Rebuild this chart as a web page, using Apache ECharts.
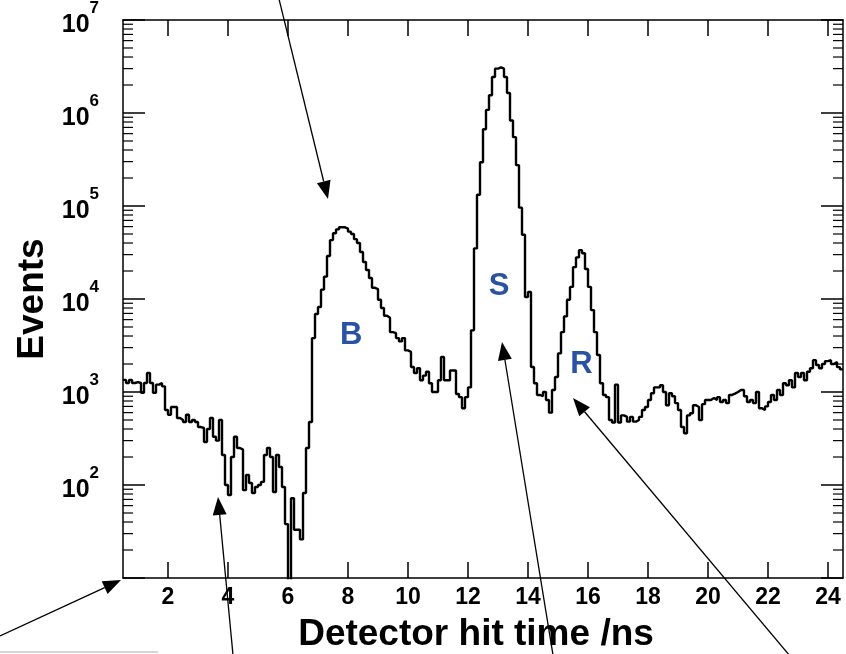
<!DOCTYPE html>
<html>
<head>
<meta charset="utf-8">
<script src="https://cdn.jsdelivr.net/npm/echarts@6/dist/echarts.min.js"></script>
<style>
  html, body { margin: 0; padding: 0; background: #fff; }
  #chart { width: 846px; height: 654px; }
</style>
</head>
<body>
<div id="chart"></div>
<script>
// histogram: 0.1 ns bins starting at 0.5 ns
const binStart = 0.5;
const binWidth = 0.1;
const counts = [
  1350, 1250, 1350, 1250, 1280, 1250, 980, 1250, 1600, 1250,
  980, 1200, 1250, 1150, 640, 570, 690, 690, 525, 500,
  475, 570, 475, 500, 475, 420, 410, 290, 400, 525,
  330, 300, 500, 210, 100, 78, 200, 330, 250, 240,
  88, 128, 105, 82, 95, 100, 108, 210, 250, 200,
  84, 210, 156, 95, 38, 5, 72, 33, 33, 26,
  82, 250, 475, 3800, 6900, 8200, 12600, 17400, 29000, 43000,
  51000, 56000, 59000, 59000, 57000, 53000, 50000, 44000, 40000, 32000,
  25000, 20500, 16800, 13200, 12800, 9800, 8000, 6600, 6300, 4400,
  4300, 3800, 3500, 3800, 2800, 2700, 1860, 1600, 1800, 1340,
  1500, 1650, 1240, 1000, 1000, 1340, 2380, 1340, 1340, 1700,
  1700, 950, 880, 670, 880, 1120, 4600, 35000, 132000, 295000,
  670000, 1080000, 1550000, 2440000, 3000000, 3100000, 3000000, 2440000, 1640000, 830000,
  550000, 275000, 96000, 49000, 10500, 11900, 1860, 1240, 930, 900,
  1000, 820, 600, 1050, 1450, 2600, 4400, 6500, 9800, 13500,
  22000, 28000, 33500, 31000, 21000, 13500, 7600, 4400, 2500, 1240,
  930, 880, 500, 470, 1200, 470, 560, 540, 480, 540,
  480, 500, 540, 640, 690, 820, 970, 1120, 1120, 1180,
  1000, 720, 970, 900, 760, 640, 420, 360, 560, 590,
  720, 690, 500, 740, 820, 820, 860, 820, 880, 780,
  820, 760, 930, 960, 1000, 1050, 1050, 900, 780, 820,
  760, 1000, 670, 640, 700, 780, 930, 820, 1050, 930,
  1240, 1180, 1340, 1120, 1600, 1450, 1600, 1340, 1650, 1800,
  2200, 1950, 1800, 2000, 2150, 2200, 2000, 2100, 1850, 1750
];

const xMin = 0.5;
const xMax = 24.5;
const xTicks = [2, 4, 6, 8, 10, 12, 14, 16, 18, 20, 22, 24];
const yMinor = [
  20, 30, 40, 50, 60, 70, 80, 90,
  200, 300, 400, 500, 600, 700, 800, 900,
  2000, 3000, 4000, 5000, 6000, 7000, 8000, 9000,
  20000, 30000, 40000, 50000, 60000, 70000, 80000, 90000,
  200000, 300000, 400000, 500000, 600000, 700000, 800000, 900000,
  2000000, 3000000, 4000000, 5000000, 6000000, 7000000, 8000000, 9000000
];

// peak letters: [time, events, text]
const peakLabels = [
  [8.11, 4100, 'B'],
  [13.04, 13500, 'S'],
  [15.78, 2000, 'R']
];

// arrows in pixels: [tail, tip]
const arrows = [
  [[279, -1], [328, 199]],
  [[0, 636], [121, 580]],
  [[233, 655], [218, 497]],
  [[553, 655], [502, 342]],
  [[790, 656], [573, 398]]
];

const FONT = '"Liberation Sans", Arial, Helvetica, sans-serif';
const BLUE = '#2952a3';

const histPoints = counts.map((c, i) => [+(binStart + i * binWidth).toFixed(2), c]);
histPoints.push([+(binStart + counts.length * binWidth).toFixed(2), counts[counts.length - 1]]);

function arrowGraphic(tail, tip) {
  const dx = tip[0] - tail[0], dy = tip[1] - tail[1];
  const len = Math.sqrt(dx * dx + dy * dy);
  const ux = dx / len, uy = dy / len;
  const hl = 18, hw = 7;
  const bx = tip[0] - ux * hl, by = tip[1] - uy * hl;
  return [
    { type: 'line', shape: { x1: tail[0], y1: tail[1], x2: bx, y2: by },
      style: { stroke: '#000', lineWidth: 1.3 }, silent: true },
    { type: 'polygon', shape: { points: [tip, [bx - uy * hw, by + ux * hw], [bx + uy * hw, by - ux * hw]] },
      style: { fill: '#000' }, silent: true }
  ];
}

const chart = echarts.init(document.getElementById('chart'), null, { renderer: 'canvas' });

const axisLine = { show: true, onZero: false, lineStyle: { color: '#000', width: 1.5 } };

chart.setOption({
  animation: false,
  backgroundColor: '#fff',
  grid: { left: 123, right: 3, top: 20, bottom: 76, containLabel: false, outerBoundsMode: 'none' },
  xAxis: [
    {
      type: 'value', min: xMin, max: xMax, position: 'bottom',
      axisLine: axisLine,
      axisTick: { show: true, inside: true, length: 16, customValues: xTicks, lineStyle: { color: '#000', width: 1.5 } },
      axisLabel: { customValues: xTicks, color: '#000', fontSize: 23, fontWeight: 'bold', fontFamily: FONT, margin: 8 },
      splitLine: { show: false },
      name: 'Detector hit time /ns', nameLocation: 'middle', nameGap: 38,
      nameTextStyle: { color: '#000', fontSize: 37, fontWeight: 'bold', fontFamily: FONT, padding: [0, 14, 0, 0] }
    },
    {
      type: 'value', min: xMin, max: xMax, position: 'top',
      axisLine: axisLine,
      axisTick: { show: true, inside: true, length: 16, customValues: xTicks, lineStyle: { color: '#000', width: 1.5 } },
      axisLabel: { show: false },
      splitLine: { show: false }
    }
  ],
  yAxis: [
    {
      type: 'log', logBase: 10, min: 10, max: 1e7, position: 'left',
      axisLine: axisLine,
      axisTick: { show: true, inside: true, length: 22, lineStyle: { color: '#000', width: 1.5 } },
      axisLabel: {
        color: '#000', margin: 24, padding: [10, 0, 0, 0],
        fontSize: 25, fontWeight: 'bold', fontFamily: FONT,
        formatter: v => v <= 10 ? '' : '{b|10}{s|' + Math.round(Math.log10(v)) + '}',
        rich: {
          b: { fontSize: 25, fontWeight: 'bold', fontFamily: FONT, color: '#000', lineHeight: 50 },
          s: { fontSize: 17, fontWeight: 'bold', fontFamily: FONT, color: '#000', verticalAlign: 'top', lineHeight: 17 }
        }
      },
      splitLine: { show: false },
      name: 'Events', nameLocation: 'middle', nameRotate: 90, nameGap: 68,
      nameTextStyle: { color: '#000', fontSize: 37, fontWeight: 'bold', fontFamily: FONT }
    },
    {
      type: 'log', logBase: 10, min: 10, max: 1e7, position: 'right',
      axisLine: axisLine,
      axisTick: { show: true, inside: true, length: 22, lineStyle: { color: '#000', width: 1.5 } },
      axisLabel: { show: false },
      splitLine: { show: false }
    }
  ],
  series: [
    {
      name: 'events', type: 'line', step: 'end', data: histPoints,
      xAxisIndex: 0, yAxisIndex: 0, symbol: 'none', clip: true,
      lineStyle: { color: '#000', width: 2.4 }, z: 5
    },
    {
      // minor log ticks on left and right frame
      type: 'custom', xAxisIndex: 0, yAxisIndex: 0, silent: true, clip: false,
      data: yMinor.map(v => [xMin, v]),
      encode: { x: 0, y: 1 },
      renderItem: (params, api) => {
        const v = api.value(1);
        const l = api.coord([xMin, v]);
        const r = api.coord([xMax, v]);
        return {
          type: 'group',
          children: [
            { type: 'line', shape: { x1: l[0], y1: l[1], x2: l[0] + 10, y2: l[1] }, style: { stroke: '#000', lineWidth: 1.2 } },
            { type: 'line', shape: { x1: r[0] - 10, y1: r[1], x2: r[0], y2: r[1] }, style: { stroke: '#000', lineWidth: 1.2 } }
          ]
        };
      }
    },
    {
      type: 'scatter', xAxisIndex: 0, yAxisIndex: 0, silent: true,
      symbolSize: 0, itemStyle: { opacity: 1 },
      data: peakLabels.map(p => ({ value: [p[0], p[1]], name: p[2] })),
      label: {
        show: true, position: 'inside', formatter: p => p.name, opacity: 1,
        color: BLUE, fontSize: 31, fontWeight: 'bold', fontFamily: FONT
      }
    }
  ],
  graphic: [].concat(
    ...arrows.map(a => arrowGraphic(a[0], a[1])),
    [{ type: 'line', shape: { x1: 0, y1: 652, x2: 158, y2: 652 }, style: { stroke: '#c8c8c8', lineWidth: 1.5 }, silent: true }]
  )
});
</script>
</body>
</html>
